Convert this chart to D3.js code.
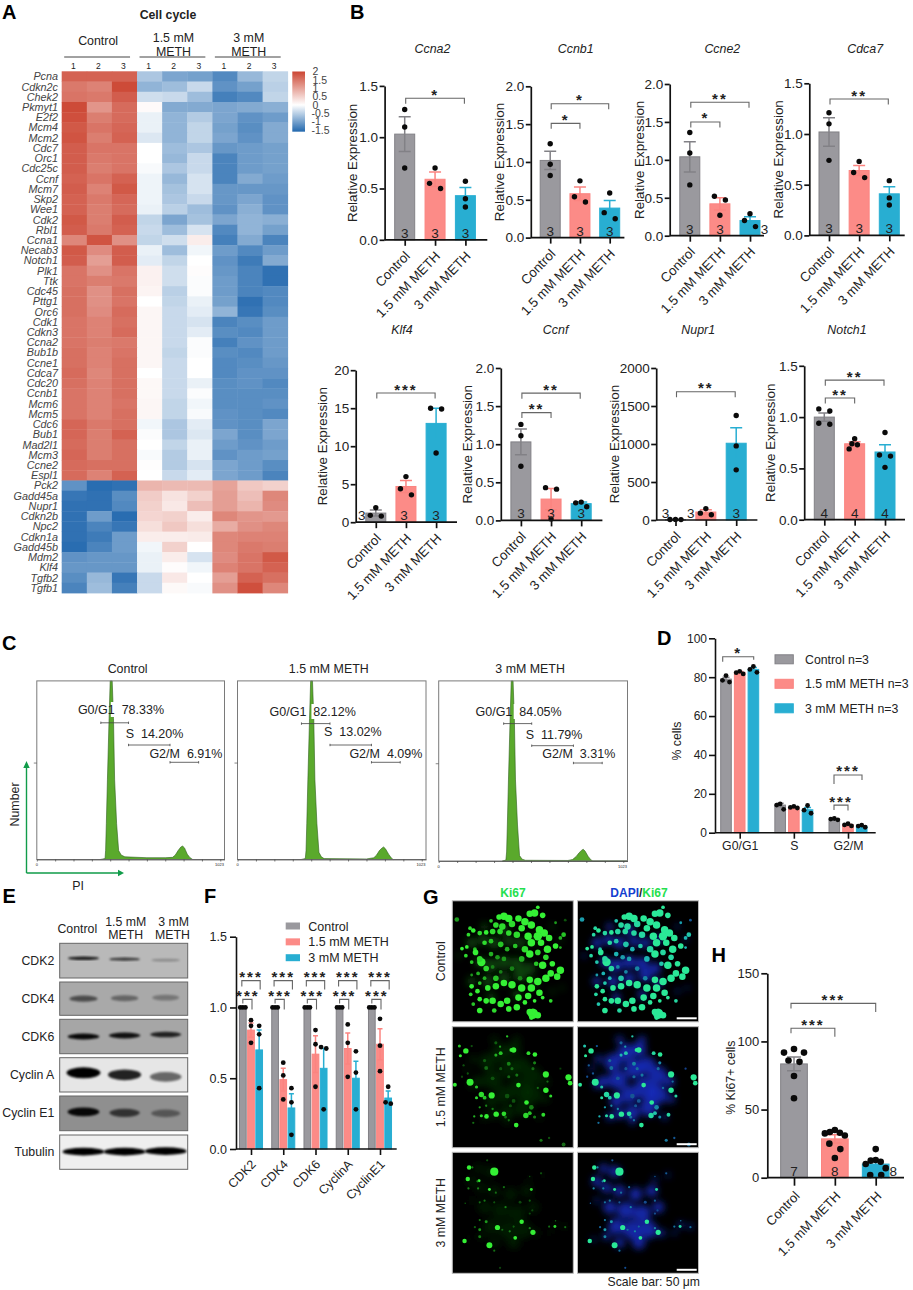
<!DOCTYPE html>
<html>
<head>
<meta charset="utf-8">
<script src="https://cdn.jsdelivr.net/npm/d3@7"></script>
<style>
    body { margin: 0; background: white; }
    svg { display: block; font-family: "Liberation Sans", Arial, sans-serif; }
    text { fill: #222; }
</style>
</head>
<body>
<svg id="figure" width="913" height="1290"></svg>
<script>
// ---------- data ----------
const groups = ["Control", "1.5 mM METH", "3 mM METH"];

// A: heatmap
const heatGenes = ["Pcna","Cdkn2c","Chek2","Pkmyt1","E2f2","Mcm4","Mcm2","Cdc7","Orc1","Cdc25c","Ccnf","Mcm7","Skp2","Wee1","Cdk2","Rbl1","Ccna1","Necab3","Notch1","Plk1","Ttk","Cdc45","Pttg1","Orc6","Cdk1","Cdkn3","Ccna2","Bub1b","Ccne1","Cdca7","Cdc20","Ccnb1","Mcm6","Mcm5","Cdc6","Bub1","Mad2l1","Mcm3","Ccne2","Espl1","Pck2","Gadd45a","Nupr1","Cdkn2b","Npc2","Cdkn1a","Gadd45b","Mdm2","Klf4","Tgfb2","Tgfb1"];
const heatColumns = ["1","2","3","1","2","3","1","2","3"];
const heatValues = [
    [1.7,1.7,1.7,-.6,-.95,-1.0,-1.25,-.75,-.45],
    [1.45,1.35,1.95,-.8,-.7,-.4,-1.15,-1.0,-.5],
    [1.5,1.45,1.75,-.35,-.4,-.7,-1.35,-1.25,-.45],
    [1.95,1.15,1.6,.05,-.9,-.9,-.95,-.9,-.85],
    [1.9,1.4,1.6,-.15,-.8,-.55,-.95,-1.15,-1.05],
    [1.8,1.5,1.65,-.15,-.8,-.45,-1.0,-1.2,-.9],
    [1.85,1.4,1.7,-.25,-.8,-.45,-.95,-1.15,-.9],
    [1.75,1.5,1.5,0,-.7,-.6,-1.1,-1.05,-1.0],
    [1.75,1.45,1.5,0,-.75,-.4,-1.3,-1.05,-1.0],
    [1.75,1.4,1.5,-.05,-.6,-.4,-1.3,-1.05,-1.0],
    [1.7,1.5,1.7,-.12,-.75,-.3,-1.3,-.9,-1.05],
    [1.75,1.35,1.8,-.12,-.65,-.3,-1.1,-1.1,-1.1],
    [1.7,1.45,1.65,-.12,-.6,-.4,-1.1,-.95,-1.15],
    [1.7,1.4,1.6,-.15,-.5,-.7,-1.15,-.85,-1.15],
    [1.8,1.4,1.75,-.45,-.95,-.65,-.95,-.8,-.85],
    [1.75,1.45,1.7,-.4,-.7,-.3,-1.25,-.8,-1.0],
    [1.3,1.85,1.2,-.45,-.35,.2,-1.35,-.9,-1.3],
    [1.8,1.25,1.75,-.15,-.7,-.1,-1.05,-1.25,-1.05],
    [1.75,1.05,1.75,-.2,-.45,0,-1.15,-1.4,-.9],
    [1.5,1.2,1.5,.15,-.35,.03,-1.1,-1.3,-1.5],
    [1.5,1.4,1.45,.15,-.35,-.03,-1.05,-1.3,-1.5],
    [1.55,1.2,1.55,.12,-.5,-.03,-1.05,-1.3,-1.25],
    [1.55,1.2,1.5,0,-.45,-.15,-1.0,-1.5,-1.25],
    [1.55,1.25,1.6,.1,-.4,-.2,-.8,-1.45,-1.2],
    [1.5,1.35,1.55,.1,-.4,-.3,-1.3,-1.2,-1.05],
    [1.5,1.35,1.6,.1,-.4,-.2,-1.2,-1.25,-1.05],
    [1.5,1.4,1.45,.1,-.4,-.03,-1.35,-1.15,-1.05],
    [1.55,1.35,1.5,.1,-.45,-.03,-1.2,-1.25,-1.05],
    [1.55,1.35,1.55,.1,-.4,0,-1.25,-1.2,-1.1],
    [1.6,1.3,1.55,0,-.4,0,-1.25,-1.15,-1.15],
    [1.55,1.35,1.55,.08,-.4,-.15,-1.2,-1.15,-1.25],
    [1.5,1.35,1.55,.08,-.4,-.03,-1.2,-1.2,-1.2],
    [1.5,1.35,1.5,.1,-.45,-.1,-1.2,-1.2,-1.15],
    [1.5,1.35,1.55,.1,-.45,-.05,-1.15,-1.2,-1.25],
    [1.65,1.45,1.55,-.1,-.6,-.2,-1.15,-1.2,-.95],
    [1.65,1.4,1.7,-.03,-.6,-.25,-.95,-1.2,-.95],
    [1.6,1.4,1.55,0,-.45,-.15,-1.05,-1.15,-1.05],
    [1.65,1.4,1.55,-.05,-.55,-.15,-1.15,-1.05,-1.0],
    [1.6,1.55,1.55,.02,-.55,-.3,-.95,-1.05,-1.2],
    [1.6,1.35,1.7,0,-.4,-.2,-.95,-1.05,-1.3],
    [-1.15,-1.55,-1.5,.8,.75,.75,1.0,.6,.5],
    [-1.45,-1.5,-1.2,.55,.3,.5,1.05,.7,1.3],
    [-1.5,-1.5,-1.25,.5,.25,.7,1.05,.8,1.25],
    [-1.5,-1.05,-1.55,.45,.5,.2,1.3,1.15,1.1],
    [-1.5,-1.3,-1.45,.35,.6,.35,.9,1.2,1.3],
    [-1.5,-1.4,-1.05,.2,.2,.22,1.3,1.35,1.35],
    [-1.55,-1.3,-1.05,-.1,.5,0,1.3,1.45,1.4],
    [-1.15,-1.1,-1.1,-.15,.2,-.3,1.25,1.5,1.8],
    [-1.1,-1.1,-1.1,-.15,.03,-.1,1.35,1.5,1.7],
    [-1.2,-.75,-1.45,-.4,.25,0,1.05,1.7,1.55],
    [-1.3,-.7,-1.35,-.4,.07,-.05,1.2,1.9,1.3]
];
const heatLegendTicks = [2, 1.5, 1, 0.5, 0, -0.5, -1, -1.5];

// B: qPCR bars
const geneNames = ["Ccna2","Ccnb1","Ccne2","Cdca7","Klf4","Ccnf","Nupr1","Notch1"];
const geneTicks = [
    [0,.5,1,1.5],[0,.5,1,1.5,2],[0,.5,1,1.5,2],[0,.5,1,1.5],
    [0,5,10,15,20],[0,.5,1,1.5,2],[0,500,1000,1500,2000],[0,.5,1,1.5]
];
const geneMeans = [
    [1.03,.59,.43],[1.02,.58,.39],[1.04,.42,.2],[1.02,.64,.41],
    [1.2,4.7,13],[1.03,.28,.22],[5,105,1010],[1.0,.74,.66]
];
const geneErrors = [
    [.17,.07,.08],[.12,.09,.1],[.2,.08,.05],[.14,.05,.07],
    [.4,.8,2],[.17,.14,.02],[3,30,205],[.04,.02,.07]
];
const genePoints = [
    [[1.27,1.1,.7],[.7,.55,.5],[.57,.4,.32]],
    [[1.24,.97,.82],[.75,.54,.47],[.59,.33,.25]],
    [[1.36,1.09,.67],[.52,.47,.27],[.29,.2,.12]],
    [[1.21,1.1,.74],[.73,.62,.57],[.54,.37,.3]],
    [[1.9,.9,.8],[6,4.4,3.6],[15,14.9,9.1]],
    [[1.26,1.11,.71],[.43,.41,.02],[.24,.23,.18]],
    [[8,6,5],[150,90,70],[1375,975,660]],
    [[1.08,1.06,.94,.93],[.79,.74,.73,.69],[.85,.63,.62,.51]]
];
const geneCounts = [[3,3,3],[3,3,3],[3,3,3],[3,3,3],[3,3,3],[3,3,3],[3,3,3],[4,4,4]];
// from group, to group, height on the value axis, stars
const geneBrackets = [
    [[0,2,1.38,"*"]],
    [[0,2,1.77,"*"],[0,1,1.51,"*"]],
    [[0,2,1.76,"**"],[0,1,1.5,"*"]],
    [[0,2,1.345,"**"]],
    [[0,2,17,"***"]],
    [[0,2,1.67,"**"],[0,1,1.415,"**"]],
    [[0,2,1687,"**"]],
    [[0,2,1.36,"**"],[0,1,1.186,"**"]]
];

// C: cell cycle histograms, [channel, % of frame height]
const cycleTitles = ["Control", "1.5 mM METH", "3 mM METH"];
const cycleHist = [
    [[345,0],[372,.5],[375,5],[379,20],[385,45],[394,79],[400,100],[411,100],[418,79],[424,45],[435,20],[446,5],[460,2.5],[480,1.5],[600,1],[700,1],[740,1.2],[755,2.5],[770,5],[785,7],[795,7.5],[805,6.5],[820,3],[835,1],[850,0],[1023,0]],
    [[345,0],[368,.5],[372,5],[376,20],[382,45],[391,79],[397,100],[407,100],[414,79],[420,45],[431,20],[442,4],[455,1.5],[470,.5],[700,.3],[740,1],[755,2.5],[770,5],[785,6.5],[793,7],[803,6],[820,3],[835,.8],[845,0],[1023,0]],
    [[345,0],[364,.5],[368,5],[372,20],[378,45],[387,79],[393,100],[403,100],[410,79],[416,45],[427,20],[438,3],[452,1],[470,.4],[700,.3],[725,.8],[745,2.5],[760,4.5],[775,6],[783,6.5],[793,5.5],[810,2.5],[825,.6],[835,0],[1023,0]]
];
const cycleLabels = [
    ["G0/G1  78.33%", "S  14.20%", "G2/M  6.91%"],
    ["G0/G1  82.12%", "S  13.02%", "G2/M  4.09%"],
    ["G0/G1  84.05%", "S  11.79%", "G2/M  3.31%"]
];
const cycleGates = [
    [[349,500],[500,726],[726,882]],
    [[347,502],[502,727],[727,883]],
    [[352,504],[504,730],[730,886]]
];

// D: cell cycle fractions
const phases = ["G0/G1", "S", "G2/M"];
const phaseLegend = ["Control n=3", "1.5 mM METH n=3", "3 mM METH n=3"];
const phaseTicks = [0,20,40,60,80,100];
const phaseMeans = [[79,82.5,84],[14.2,13,11.8],[6.9,4.1,3.3]];
const phaseErrors = [[1,.4,1],[.9,.3,1.2],[.2,.3,.3]];
const phasePoints = [
    [[80.8,78.4,77.5],[83,82.3,81.7],[85.5,84,82.5]],
    [[14.8,14.2,12],[13.5,13,12.7],[14,11.6,10]],
    [[7.3,7,6.6],[4.6,4,3.5],[3.9,3.4,2.8]]
];

// E: western blots
const blotNames = ["CDK2","CDK4","CDK6","Cyclin A","Cyclin E1","Tubulin"];
const blotIntensity = [
    [.85,.7,.25],[.55,.4,.3],[.95,.9,.8],[1,.85,.55],[.95,.65,.4],[1,1,1]
];
const blotBackground = ["#b9b9b9","#a9a9a9","#a6a6a6","#e6e6e6","#8f8f8f","#efefef"];

// F: protein quantification
const proteins = ["CDK2","CDK4","CDK6","CyclinA","CyclinE1"];
const proteinTicks = [0,.5,1,1.5];
const proteinMeans = [[1,.84,.7],[1,.49,.29],[1,.67,.57],[1,.71,.5],[1,.74,.36]];
const proteinErrors = [[0,.05,.14],[0,.08,.1],[0,.13,.14],[0,.11,.12],[0,.11,.05]];
const proteinPoints = [
    [[1,1,1],[.91,.87,.75],[.87,.81,.43]],
    [[1,1,1],[.61,.52,.35],[.43,.33,.1]],
    [[1,1,1],[.84,.74,.44],[.72,.71,.28]],
    [[1,1,1],[.88,.75,.51],[.69,.54,.28]],
    [[1,1,1],[.92,.73,.55],[.44,.33,.32]]
];

// G: confocal spots, [x, y, radius, brightness] on a 375 wide frame
const ki67Control = [[14,58,5,.6],[265,20,4,1],[255,38,8,1],[280,45,6,1],[240,40,7,1],[160,48,8,1],[175,55,8,1],[145,50,6,1],[205,55,7,1],[225,65,8,1],[245,75,8,1],[135,75,6,.9],[155,80,7,.9],[120,62,4,.8],[185,72,7,.9],[215,85,7,1],[270,90,8,1],[285,100,8,1],[265,110,9,1],[300,115,7,1],[320,68,3,.6],[345,105,5,.8],[335,115,4,.7],[55,85,4,.9],[65,92,5,1],[50,105,4,.9],[85,100,5,.9],[105,98,5,1],[125,95,6,.9],[148,95,6,.9],[175,100,6,.9],[200,105,7,.9],[235,110,8,1],[245,130,8,1],[275,130,7,1],[295,150,8,1],[320,140,6,1],[335,145,3,.7],[30,148,4,1],[45,143,4,1],[42,170,4,.9],[70,150,4,.8],[72,160,6,1],[100,130,5,.9],[120,125,5,.8],[150,135,6,.8],[170,150,5,.7],[195,140,5,.8],[225,150,7,.9],[240,165,8,1],[265,160,6,.9],[90,190,9,1],[85,180,6,.9],[60,190,4,.8],[120,165,5,.7],[140,175,5,.6],[160,180,5,.6],[215,180,6,.7],[290,175,6,.9],[280,200,8,1],[310,195,6,1],[335,215,8,1],[325,235,7,1],[305,225,7,1],[260,195,5,.8],[290,240,8,1],[265,250,8,1],[240,245,7,1],[210,240,5,.5],[185,210,5,.5],[150,220,4,.5],[125,205,4,.5],[105,210,6,.9],[80,225,4,.7],[60,230,3,.6],[100,240,4,.7],[135,240,6,.8],[160,255,7,1],[185,260,8,1],[135,265,7,1],[110,270,6,1],[85,255,4,.8],[60,265,5,1],[78,280,5,1],[57,290,4,.9],[215,270,8,1],[245,270,8,1],[270,285,7,1],[235,295,7,1],[205,300,7,1],[170,310,7,1],[150,320,7,1],[125,310,7,1],[105,310,6,1],[85,305,5,1],[65,320,4,.8],[85,340,6,1],[130,340,5,.9],[175,335,6,1],[200,330,7,1],[225,315,5,1],[255,310,4,1],[280,300,4,1],[305,310,4,.9],[250,350,11,1],[265,355,7,1],[240,345,7,1],[245,362,5,1],[350,60,3,.3]];
const ki67Low = [[42,75,7,1],[25,90,4,1],[22,60,4,.8],[170,30,3,.8],[190,72,7,1],[183,72,5,1],[236,82,5,.9],[256,86,6,1],[290,148,8,1],[360,157,8,1],[365,175,6,1],[8,180,5,1],[55,172,9,1],[75,187,4,.8],[205,181,6,1],[290,197,7,1],[305,215,4,.9],[90,210,7,.9],[122,213,8,1],[75,220,4,.9],[100,220,5,.8],[230,235,6,1],[136,271,7,1],[106,278,6,1],[90,276,4,.9],[68,278,3,.7],[160,270,6,.9],[228,275,7,.9],[240,268,5,.8],[282,273,5,.9],[198,305,6,1],[150,82,5,.8],[135,88,4,.7],[148,62,3,.6],[135,50,4,.35],[100,105,4,.35],[105,128,5,.4],[125,160,5,.3],[175,115,5,.5],[185,130,4,.4],[200,150,4,.45],[175,155,4,.4],[150,130,4,.3],[255,112,4,.5],[250,130,4,.4],[295,170,3,.4],[265,190,3,.4],[170,215,6,.3],[190,230,5,.3],[180,245,4,.3],[165,280,4,.4],[175,290,3,.4],[245,250,6,.5],[255,280,4,.5],[105,245,3,.5],[85,250,3,.6],[125,255,3,.5],[65,298,3,.4],[275,352,4,.45],[300,345,3,.3],[345,365,5,.4],[335,130,3,.2],[60,60,3,.3],[35,120,3,.3],[48,145,3,.3],[30,155,3,.25]];
const ki67High = [[130,60,11,1],[52,47,6,1],[48,83,6,1],[83,88,4,1],[115,115,4,1],[245,115,4,.9],[215,215,6,1],[140,233,7,1],[250,248,7,1],[195,265,5,1],[38,275,6,1],[115,288,8,1],[318,230,4,.9],[62,47,3,.5],[78,90,3,.5],[108,25,3,.3],[50,112,3,.5],[80,112,3,.5],[100,150,3,.45],[85,155,3,.4],[40,158,2,.35],[135,125,3,.4],[160,108,3,.4],[165,170,3,.5],[240,150,3,.35],[210,155,4,.25],[130,155,3,.3],[105,215,4,.6],[85,210,3,.45],[85,240,4,.6],[85,262,4,.5],[178,245,3,.5],[155,240,3,.4],[190,230,3,.35],[240,235,3,.5],[300,230,3,.4],[350,232,3,.4],[320,212,2,.4],[275,65,3,.3],[240,75,2,.3],[148,358,3,.25],[130,305,3,.4],[240,190,3,.25],[70,232,3,.35],[248,180,3,.25]];
const dapiControl = [[60,130,14],[95,120,14],[130,130,16],[175,125,14],[210,130,14],[250,120,12],[85,190,14],[120,200,18],[160,190,18],[200,195,18],[240,210,16],[60,250,12],[110,250,16],[160,240,16],[210,230,18],[250,255,12],[120,300,12],[200,290,12],[160,90,14],[100,80,10],[310,80,6],[335,120,6],[20,170,6],[340,270,5],[310,280,6]];
const dapiLow = [[110,110,24],[150,80,24],[190,70,20],[80,170,16],[125,165,26],[175,130,26],[215,120,24],[250,150,24],[210,190,30],[160,210,24],[120,230,18],[250,210,26],[285,170,14],[220,250,24],[170,265,20],[130,270,14],[65,100,10],[60,180,10],[100,280,10],[290,225,10],[270,280,8],[45,130,7],[200,40,10],[130,40,10],[170,295,8]];
const dapiHigh = [[80,50,12],[115,60,16],[60,90,14],[90,110,14],[130,120,16],[180,130,18],[230,120,16],[250,170,16],[100,170,18],[150,180,24],[200,190,24],[120,230,22],[170,240,26],[220,240,24],[260,250,10],[190,280,18],[130,280,14],[90,260,10],[320,225,8],[350,230,7],[300,250,6],[60,150,7],[240,85,7],[280,70,6],[50,270,6]];
const imagingRows = ["Control", "1.5 mM METH", "3 mM METH"];

// H: Ki67 quantification
const ki67Ticks = [0,50,100,150];
const ki67Means = [83.5,28.5,10];
const ki67Errors = [5,3,2];
const ki67Points = [
    [94.5,91.8,91.8,86,85,74.6,58.3],
    [35,33.5,33,32.5,31,25,21,14.5],
    [21,13,12.5,11.7,10,7,2,2]
];
const ki67Counts = [7,8,8];

// ---------- helpers ----------
const barColors = ["#9a999e", "#fc8b87", "#28aed2"];
const barStrokes = ["#828186", "#fb8480", "#28aed2"];
const svg = d3.select("#figure");

const defs = svg.append("defs");
function addBlur(id, std) {
    defs.append("filter").attr("id", id)
        .attr("x", "-30%").attr("y", "-30%").attr("width", "160%").attr("height", "160%")
        .append("feGaussianBlur").attr("stdDeviation", std);
}
addBlur("blur1", 1);
addBlur("blur08", .7);
addBlur("blur4", 3.5);

function label(parent, x, y, txt, size, opts) {
    let o = opts || {};
    let t = parent.append("text")
        .attr("x", x).attr("y", y)
        .attr("font-size", size)
        .attr("text-anchor", o.anchor || "start")
        .text(txt);
    if (o.bold) t.attr("font-weight", "bold");
    if (o.italic) t.attr("font-style", "italic");
    if (o.color) t.style("fill", o.color);
    if (o.rotate) t.attr("transform", `rotate(${o.rotate},${x},${y})`);
    return t;
}

// spreads dots that would overlap sideways, the way Prism does
function swarm(values, yScale, step, near) {
    let sorted = values.slice().sort((a, b) => b - a);
    let result = [];
    let cluster = [];
    let order = [0, -1, 1, -2, 2, -3, 3];
    function flush() {
        let k = cluster.length;
        cluster.forEach((v, i) => {
            let dx;
            if (k === 2) dx = (i === 0 ? -1 : 1) * Math.min(step, 5.5);
            else dx = order[i] * step / Math.max(1, Math.floor(k / 2));
            result.push({ v: v, dx: dx });
        });
        cluster = [];
    }
    sorted.forEach(v => {
        if (cluster.length && yScale(v) - yScale(cluster[cluster.length - 1]) > near) flush();
        cluster.push(v);
    });
    flush();
    return result;
}

function bracket(parent, x1, x2, y, stars, dropL, dropR, starX) {
    parent.append("path")
        .attr("d", `M${x1},${y + dropL}V${y}H${x2}V${y + dropR}`)
        .attr("fill", "none").attr("stroke", "#666").attr("stroke-width", 1.1);
    parent.append("text")
        .attr("x", starX === undefined ? (x1 + x2) / 2 : starX)
        .attr("y", y + 1.5)
        .attr("text-anchor", "middle")
        .attr("font-size", 15)
        .attr("font-weight", "bold")
        .attr("letter-spacing", 2)
        .text(stars);
}

function styleAxis(sel, width) {
    sel.selectAll("path,line").attr("stroke", "#111").attr("stroke-width", width);
    sel.selectAll("text").style("fill", "#222").attr("font-family", "Liberation Sans, Arial, sans-serif");
}

function drawBars(parent, centres, yScale, means, errors, barW, capW) {
    means.forEach((m, i) => {
        parent.append("rect")
            .attr("x", centres[i] - barW / 2).attr("width", barW)
            .attr("y", yScale(m)).attr("height", yScale(0) - yScale(m))
            .attr("fill", barColors[i]).attr("stroke", barStrokes[i]).attr("stroke-width", 1);
        if (errors[i] > 0) {
            let top = yScale(m + errors[i]);
            let low = yScale(Math.max(0, m - errors[i]));
            parent.append("path")
                .attr("d", `M${centres[i] - capW / 2},${top}H${centres[i] + capW / 2}M${centres[i]},${top}V${low}M${centres[i] - capW / 2},${low}H${centres[i] + capW / 2}`)
                .attr("fill", "none").attr("stroke", barStrokes[i]).attr("stroke-width", 1.5);
        }
    });
}

function drawDots(parent, centres, yScale, points, r, step, near) {
    points.forEach((vals, i) => {
        parent.selectAll(null)
            .data(swarm(vals, yScale, step, near))
            .enter().append("circle")
            .attr("cx", d => centres[i] + d.dx)
            .attr("cy", d => yScale(d.v))
            .attr("r", r)
            .attr("fill", "#0a0a0a");
    });
}

function rotateLabels(axisG, dx, dy) {
    axisG.selectAll(".tick text")
        .attr("text-anchor", "end")
        .attr("x", 0).attr("y", 0).attr("dy", 0)
        .attr("transform", `translate(${dx},${dy}) rotate(-46)`);
}

// ---------- A ----------
function drawHeatmap() {
    let g = svg.append("g");
    label(g, 168, 18.5, "Cell cycle", 12.3, { bold: true, anchor: "middle" });

    let color = d3.scaleLinear().domain([-1.6, 0, 2]).range(["#2268ae", "#ffffff", "#cc4633"]);
    let x = d3.scaleBand().domain(d3.range(heatColumns.length)).range([61.7, 287.7]);
    let y = d3.scaleBand().domain(heatGenes).range([71.3, 593]);

    heatValues.forEach((row, r) => {
        g.selectAll(null).data(row).enter().append("rect")
            .attr("x", (d, c) => x(c))
            .attr("y", y(heatGenes[r]))
            .attr("width", x.bandwidth() + .4)
            .attr("height", y.bandwidth() + .4)
            .attr("fill", d => color(d));
    });

    g.selectAll(null).data(heatGenes).enter().append("text")
        .attr("x", 58)
        .attr("y", d => y(d) + y.bandwidth() / 2)
        .attr("dy", ".36em")
        .attr("text-anchor", "end")
        .attr("font-size", 10.8)
        .attr("font-style", "italic")
        .style("fill", "#444")
        .text(d => d);

    g.selectAll(null).data(heatColumns).enter().append("text")
        .attr("x", (d, i) => x(i) + x.bandwidth() / 2 - 1)
        .attr("y", 69)
        .attr("text-anchor", "middle")
        .attr("font-size", 8.5)
        .text(d => d);

    // group heads
    let heads = [[0, ["Control"], 45], [3, ["1.5 mM", "METH"], 41.7], [6, ["3 mM", "METH"], 41.7]];
    heads.forEach(h => {
        let x1 = x(h[0]) + 2.5;
        let x2 = x(h[0] + 2) + x.bandwidth() - 7;
        g.append("line").attr("x1", x1).attr("x2", x2).attr("y1", 57).attr("y2", 57)
            .attr("stroke", "#444").attr("stroke-width", 1);
        h[1].forEach((t, i) => {
            label(g, (x1 + x2) / 2 + 1, h[2] + i * 14, t, 12.4, { anchor: "middle" });
        });
    });

    // colour key
    let key = d3.scaleLinear().domain([2, -1.5]).range([71.5, 130]);
    let grad = defs.append("linearGradient").attr("id", "heatKey")
        .attr("x1", 0).attr("x2", 0).attr("y1", 0).attr("y2", 1);
    [2, 1, 0, -.8, -1.6].forEach((v, i) => {
        grad.append("stop").attr("offset", `${(2 - v) / 3.6 * 100}%`).attr("stop-color", color(v));
    });
    g.append("rect").attr("x", 292.3).attr("y", key(2)).attr("width", 12.7)
        .attr("height", key(-1.6) - key(2)).attr("fill", "url(#heatKey)");
    g.selectAll(null).data(heatLegendTicks).enter().append("text")
        .attr("x", d => d < 0 ? 311.5 : 312.5)
        .attr("y", d => key(d))
        .attr("dy", ".36em")
        .attr("font-size", 10.5)
        .style("fill", "#444")
        .text(d => d);
}

// ---------- B ----------
const geneLayout = [
    { axis: 384.6, end: 487.3, top: 85.9, base: 239.8, c0: 404.7, c2: 465.4, title: 432.5, titleY: 53.4, yLabel: 357.5, nDx: [0,0,0] },
    { axis: 530.8, end: 624.4, top: 86.3, base: 237.6, c0: 550.2, c2: 609.7, title: 575.7, titleY: 53.4, yLabel: 503.7, nDx: [0,0,0] },
    { axis: 669.7, end: 764, top: 84, base: 235.7, c0: 689.8, c2: 750, title: 722.3, titleY: 53.4, yLabel: 644, nDx: [0,0,14.6] },
    { axis: 809.3, end: 904.7, top: 83.3, base: 235.4, c0: 829, c2: 889.3, title: 865.2, titleY: 53.4, yLabel: 783, nDx: [0,0,0] },
    { axis: 355.7, end: 457, top: 370.2, base: 522.2, c0: 375.8, c2: 436.1, title: 402, titleY: 333.6, yLabel: 327, nDx: [-14,-2,0] },
    { axis: 500.8, end: 602.4, top: 368, base: 520.4, c0: 520.9, c2: 581.2, title: 555.6, titleY: 333.6, yLabel: 472.3, nDx: [0,0,0] },
    { axis: 656.2, end: 757.4, top: 368, base: 520, c0: 675.5, c2: 736.2, title: 698.2, titleY: 333.6, yLabel: 618.5, nDx: [-10,-15,0] },
    { axis: 804.2, end: 905, top: 365.8, base: 519.7, c0: 824.3, c2: 885, title: 847, titleY: 333.6, yLabel: 775, nDx: [0,0,0] }
];

function drawGenePanels() {
    geneNames.forEach((name, i) => {
        let l = geneLayout[i];
        let g = svg.append("g");
        let ticks = geneTicks[i];
        let y = d3.scaleLinear().domain([0, d3.max(ticks)]).range([l.base, l.top]);
        let x = d3.scalePoint().domain(groups).range([l.c0, l.c2]);
        let centres = groups.map(d => x(d));

        label(g, l.title, l.titleY, name, 12.4, { italic: true, anchor: "middle" });
        label(g, l.yLabel, (l.top + l.base) / 2, "Relative Expression", 13.4, { anchor: "middle", rotate: -90 });

        drawBars(g, centres, y, geneMeans[i], geneErrors[i], 20, 12);
        drawDots(g, centres, y, genePoints[i], 2.7, 5.5, 6.9);

        geneBrackets[i].forEach(b => {
            bracket(g, centres[b[0]] + 1, centres[b[1]] - (b[1] === 1 ? 0 : 1), y(b[2]), b[3], 5.5, 5.5);
        });

        geneCounts[i].forEach((n, k) => {
            label(g, centres[k] + l.nDx[k], l.base - 2, n, 13.5, { anchor: "middle", color: "#222" });
        });

        let yAxis = g.append("g").attr("transform", `translate(${l.axis},0)`)
            .call(d3.axisLeft(y).tickValues(ticks).tickSize(5).tickPadding(1.5)
                .tickFormat(d => (d3.max(ticks) > 10 ? d : d.toFixed(1))).tickSizeOuter(0));
        yAxis.selectAll("text").attr("font-size", 13.5);
        styleAxis(yAxis, 1.7);

        g.append("line").attr("x1", l.axis).attr("x2", l.end).attr("y1", l.base).attr("y2", l.base)
            .attr("stroke", "#111").attr("stroke-width", 1.7);
        let xAxis = g.append("g").attr("transform", `translate(0,${l.base})`)
            .call(d3.axisBottom(x).tickSize(6).tickPadding(3));
        xAxis.select(".domain").remove();
        xAxis.selectAll("text").attr("font-size", 13.3);
        rotateLabels(xAxis, 5.5, 17);
        styleAxis(xAxis, 1.7);
    });
}

// ---------- C ----------
const cycleBoxes = [
    { left: 36.8, right: 224.5, top: 680.9, bottom: 859.5,
      gateY: [722.8, 745, 762.3],
      textX: [77.9, 125.7, 149.4], textY: [713.5, 738, 758] },
    { left: 237.5, right: 426, top: 680.9, bottom: 859.5,
      gateY: [723.6, 745, 762.3],
      textX: [269.6, 324, 349.4], textY: [715.5, 736, 758] },
    { left: 438.7, right: 627.5, top: 680.9, bottom: 861,
      gateY: [723.6, 745.7, 763],
      textX: [475.5, 525.7, 542.3], textY: [715.5, 738.5, 758] }
];

function drawCyclePanels() {
    cycleBoxes.forEach((b, i) => {
        let g = svg.append("g");
        let x = d3.scaleLinear().domain([0, 1023]).range([b.left, b.right]);
        let y = d3.scaleLinear().domain([0, 100]).range([b.bottom, b.top]);
        let area = d3.area().x(d => x(d[0])).y0(y(0)).y1(d => y(d[1]));

        label(g, (b.left + b.right) / 2 - 3, 672.5, cycleTitles[i], 12.4, { anchor: "middle" });

        g.append("path").attr("d", area(cycleHist[i]))
            .attr("fill", "#5aa92c").attr("stroke", "#2f5f1c").attr("stroke-width", .6);

        g.append("rect")
            .attr("x", b.left).attr("y", b.top).attr("width", b.right - b.left).attr("height", b.bottom - b.top)
            .attr("fill", "none").attr("stroke", "#7a7a7a").attr("stroke-width", 1);

        let xAxis = g.append("g").attr("transform", `translate(0,${b.bottom})`)
            .call(d3.axisBottom(x).tickValues(d3.range(0, 1001, 100)).tickSize(2).tickFormat("").tickSizeOuter(0));
        xAxis.selectAll("path,line").attr("stroke", "#444").attr("stroke-width", .7);
        g.append("line").attr("x1", b.left - 3).attr("x2", b.left).attr("y1", y(54)).attr("y2", y(54))
            .attr("stroke", "#555").attr("stroke-width", .7);
        label(g, b.left, b.bottom + 6.5, "0", 4, { anchor: "middle" });
        label(g, b.right - 5, b.bottom + 6.5, "1023", 4, { anchor: "middle" });

        cycleLabels[i].forEach((t, k) => {
            // the G0/G1 text cuts a white gap through the peak
            if (k === 0) {
                g.append("rect")
                    .attr("x", x(cycleGates[i][0][0]) + 10).attr("y", b.textY[0] - 11.5)
                    .attr("width", 28).attr("height", 15)
                    .attr("fill", "white");
            }
            label(g, b.textX[k], b.textY[k], t, 12.5).style("white-space", "pre");
            let gate = cycleGates[i][k];
            g.append("path")
                .attr("d", `M${x(gate[0])},${b.gateY[k] - 1.2}v2.4M${x(gate[0])},${b.gateY[k]}H${x(gate[1])}M${x(gate[1])},${b.gateY[k] - 1.2}v2.4`)
                .attr("stroke", "#444").attr("stroke-width", .8).attr("fill", "none");
        });
    });

    // axis arrows
    let g = svg.append("g");
    let green = "#119c4a";
    g.append("path").attr("d", "M26.5,873V767M26.5,873H119")
        .attr("fill", "none").attr("stroke", green).attr("stroke-width", 1.4);
    g.append("path").attr("d", "M23.3,768L26.5,761L29.7,768Z M118,869.8L124,873L118,876.2Z").attr("fill", green);
    label(g, 18.5, 804.5, "Number", 12.4, { anchor: "middle", rotate: -90 });
    label(g, 78, 890, "PI", 12.4, { anchor: "middle" });
}

// ---------- D ----------
function drawPhases() {
    let g = svg.append("g");
    let y = d3.scaleLinear().domain([0, 100]).range([832.7, 638.3]);
    let x = d3.scalePoint().domain(phases).range([739.7, 848]);
    let sub = d3.scalePoint().domain(groups).range([-13.7, 13.7]);

    phases.forEach((p, i) => {
        let centres = groups.map(s => x(p) + sub(s));
        drawBars(g, centres, y, phaseMeans[i], phaseErrors[i], 10.6, 7);
        drawDots(g, centres, y, phasePoints[i], 2.4, 3.5, 6.5);
    });

    let c0 = x("G0/G1"), c2 = x("G2/M");
    bracket(g, c0 - 17, c0 + 14, y(90.5), "*", 5, 3);
    bracket(g, c2 - 14, c2, y(14.2), "***", 5, 5.5);
    bracket(g, c2 - 14, c2 + 14, y(29.7), "***", 9, 5);

    let yAxis = g.append("g").attr("transform", "translate(715,0)")
        .call(d3.axisLeft(y).tickValues(phaseTicks).tickSize(6).tickPadding(2).tickSizeOuter(0));
    yAxis.selectAll("text").attr("font-size", 12);
    styleAxis(yAxis, 1.6);

    g.append("line").attr("x1", 715).attr("x2", 875.7).attr("y1", 832.7).attr("y2", 832.7)
        .attr("stroke", "#111").attr("stroke-width", 1.6);
    let xAxis = g.append("g").attr("transform", "translate(0,832.7)")
        .call(d3.axisBottom(x).tickSize(6).tickPadding(3));
    xAxis.select(".domain").remove();
    xAxis.selectAll("text").attr("font-size", 12.3);
    styleAxis(xAxis, 1.6);

    label(g, 680.5, 741, "% cells", 12.3, { anchor: "middle", rotate: -90 });

    let legY = d3.scalePoint().domain(phaseLegend).range([659.3, 708.3]);
    phaseLegend.forEach((t, i) => {
        g.append("rect").attr("x", 775).attr("y", legY(t) - 4.5).attr("width", 18.3).attr("height", 9)
            .attr("fill", barColors[i]).attr("stroke", barStrokes[i]);
        label(g, 805, legY(t) + 4.5, t, 12.3);
    });
}

// ---------- E ----------
// band sizes per blot, in image pixels: half width, half height, vertical shift
const blotBands = [
    [16, 1.8, [-1.5, -.5, .5]],
    [15, 3.5, [1, .5, 0]],
    [16, 3, [1, 0, -1]],
    [17, 5.5, [-1, 1, 3]],
    [16, 4.5, [-.5, .5, 1]],
    [21, 3.8, [.5, .5, 0]]
];
const blotRows = [[943.3,978],[982,1015.3],[1019.3,1053.7],[1057.7,1092],[1096,1130.7],[1135,1169.3]];

function drawBlots() {
    let g = svg.append("g");
    let lane = d3.scalePoint().domain(groups).range([83.5, 165.7]);

    blotNames.forEach((name, i) => {
        let r = blotRows[i];
        let id = "blot" + i;
        defs.append("clipPath").attr("id", id).append("rect")
            .attr("x", 59.7).attr("y", r[0]).attr("width", 128).attr("height", r[1] - r[0]);
        g.append("rect").attr("x", 59.7).attr("y", r[0]).attr("width", 128).attr("height", r[1] - r[0])
            .attr("fill", blotBackground[i]);
        let bands = g.append("g").attr("clip-path", `url(#${id})`);
        let size = blotBands[i];
        groups.forEach((gr, k) => {
            let v = blotIntensity[i][k];
            bands.append("ellipse")
                .attr("cx", lane(gr))
                .attr("cy", (r[0] + r[1]) / 2 + size[2][k] - 1)
                .attr("rx", size[0] * (.85 + .15 * v))
                .attr("ry", size[1] * (.75 + .25 * v))
                .attr("fill", "#000")
                .attr("opacity", v)
                .attr("filter", "url(#blur1)");
        });
        g.append("rect").attr("x", 59.7).attr("y", r[0]).attr("width", 128).attr("height", r[1] - r[0])
            .attr("fill", "none").attr("stroke", "#666").attr("stroke-width", 1);
        label(g, 54.3, (r[0] + r[1]) / 2 + 4, name, 12.3, { anchor: "end" });
    });

    label(g, 77.3, 933, "Control", 12.3, { anchor: "middle" });
    label(g, 125.7, 926, "1.5 mM", 12.3, { anchor: "middle" });
    label(g, 125.7, 939, "METH", 12.3, { anchor: "middle" });
    label(g, 173.7, 926, "3 mM", 12.3, { anchor: "middle" });
    label(g, 172.5, 939, "METH", 12.3, { anchor: "middle" });
}

// ---------- F ----------
function drawProteins() {
    let g = svg.append("g");
    let y = d3.scaleLinear().domain([0, 1.5]).range([1149, 936.7]);
    let x = d3.scalePoint().domain(proteins).range([251, 380]);
    let sub = d3.scalePoint().domain(groups).range([-8.17, 8.17]);

    proteins.forEach((p, i) => {
        let centres = groups.map(s => x(p) + sub(s));
        drawBars(g, centres, y, proteinMeans[i], proteinErrors[i], 6.7, 5);
        drawDots(g, centres, y, proteinPoints[i], 2.4, 2.6, 3.5);
        bracket(g, centres[0], centres[1] + 1, y(1.057), "***", 4, 10, centres[0] + 5);
        bracket(g, centres[0] - 1, centres[2] + 1, y(1.19), "***", 6, 9);
    });

    let yAxis = g.append("g").attr("transform", "translate(236,0)")
        .call(d3.axisLeft(y).tickValues(proteinTicks).tickSize(6).tickPadding(3)
            .tickFormat(d => d.toFixed(1)).tickSizeOuter(0));
    yAxis.selectAll("text").attr("font-size", 12.5);
    styleAxis(yAxis, 1.6);

    g.append("line").attr("x1", 236).attr("x2", 396.7).attr("y1", 1149).attr("y2", 1149)
        .attr("stroke", "#111").attr("stroke-width", 1.6);
    let xAxis = g.append("g").attr("transform", "translate(0,1149)")
        .call(d3.axisBottom(x).tickSize(6).tickPadding(3));
    xAxis.select(".domain").remove();
    xAxis.selectAll("text").attr("font-size", 12.5);
    rotateLabels(xAxis, 5, 16);
    styleAxis(xAxis, 1.6);

    let legY = d3.scalePoint().domain(groups).range([926, 957.7]);
    groups.forEach((t, i) => {
        g.append("rect").attr("x", 285.7).attr("y", legY(t) - 3.5).attr("width", 14.3).attr("height", 7)
            .attr("fill", barColors[i]);
        label(g, 308.3, legY(t) + 4.5, t, 12.5);
    });
}

// ---------- G ----------
function drawImage(g, left, top, spots, cloud, merged, grow, hazeColor) {
    let size = 121;
    let p = d3.scaleLinear().domain([0, 375]).range([0, size]);
    let id = "img" + Math.round(left) + "_" + Math.round(top);
    defs.append("clipPath").attr("id", id).append("rect")
        .attr("x", left).attr("y", top).attr("width", size).attr("height", size);
    g.append("rect").attr("x", left).attr("y", top).attr("width", size).attr("height", size).attr("fill", "#000");
    let inner = g.append("g").attr("clip-path", `url(#${id})`);

    // diffuse signal under the spots: blue nuclei in the merge, dim green otherwise
    inner.append("g").attr("filter", "url(#blur4)")
        .selectAll("circle").data(cloud).enter().append("circle")
        .attr("cx", d => left + p(d[0])).attr("cy", d => top + p(d[1])).attr("r", d => p(d[2]) * 1.15)
        .attr("fill", merged ? "#1830cc" : hazeColor)
        .attr("opacity", merged ? .8 : .55);

    let shade = merged
        ? d3.scaleLinear().domain([.2, .7, 1]).range(["#12408c", "#1cb4b4", "#2ae898"])
        : d3.scaleLinear().domain([.2, .6, 1]).range(["#0a3a0a", "#1c9a1c", "#34f034"]);
    inner.append("g").attr("filter", "url(#blur08)")
        .selectAll("circle").data(spots).enter().append("circle")
        .attr("cx", d => left + p(d[0])).attr("cy", d => top + p(d[1])).attr("r", d => p(d[2]) * grow)
        .attr("fill", d => shade(d[3]));

    g.append("rect").attr("x", left).attr("y", top).attr("width", size).attr("height", size)
        .attr("fill", "none").attr("stroke", "#bbb").attr("stroke-width", 1);
}

function drawImaging() {
    let g = svg.append("g");
    let tops = [900.8, 1026.7, 1152.3];
    let spots = [ki67Control, ki67Low, ki67High];
    let cloud = [dapiControl, dapiLow, dapiHigh];
    let grow = [1.45, 1.2, 1.15];
    let haze = ["#147a14", "#0a3c0a", "#082e08"];

    imagingRows.forEach((name, i) => {
        drawImage(g, 452.3, tops[i], spots[i], cloud[i], false, grow[i], haze[i]);
        drawImage(g, 577.5, tops[i], spots[i], cloud[i], true, grow[i], haze[i]);
        g.append("rect").attr("x", 676.7).attr("y", tops[i] + 116.5).attr("width", 20).attr("height", 2).attr("fill", "#fff");
        label(g, 445, tops[i] + 60.5, name, 12.4, { anchor: "middle", rotate: -90 });
    });

    label(g, 513, 897, "Ki67", 12, { bold: true, anchor: "middle", color: "#24e04e" });
    let t = label(g, 639, 897, "DAPI", 12, { bold: true, anchor: "middle", color: "#1440d0" });
    t.append("tspan").text("/").style("fill", "#222");
    t.append("tspan").text("Ki67").style("fill", "#24e04e");

    label(g, 700, 1285.5, "Scale bar: 50 μm", 12.2, { anchor: "end" });
}

// ---------- H ----------
function drawKi67() {
    let g = svg.append("g");
    let y = d3.scaleLinear().domain([0, 150]).range([1177.7, 973.3]);
    let x = d3.scalePoint().domain(groups).range([794, 875.7]);
    let centres = groups.map(d => x(d));

    drawBars(g, centres, y, ki67Means, ki67Errors, 26.7, 14);
    drawDots(g, centres, y, ki67Points, 3.3, 10, 5.5);

    bracket(g, centres[0] - 3, centres[2], y(127.9), "***", 5, 8.5);
    bracket(g, centres[0] - 3, centres[1], y(109.7), "***", 5, 8.5);

    [0, 0, 17.6].forEach((dx, k) => {
        label(g, centres[k] + dx, 1175.5, ki67Counts[k], 13.5, { anchor: "middle" });
    });

    let yAxis = g.append("g").attr("transform", "translate(767.3,0)")
        .call(d3.axisLeft(y).tickValues(ki67Ticks).tickSize(6).tickPadding(2).tickSizeOuter(0));
    yAxis.selectAll("text").attr("font-size", 13);
    styleAxis(yAxis, 1.7);

    g.append("line").attr("x1", 767.3).attr("x2", 904).attr("y1", 1177.7).attr("y2", 1177.7)
        .attr("stroke", "#111").attr("stroke-width", 1.7);
    let xAxis = g.append("g").attr("transform", "translate(0,1177.7)")
        .call(d3.axisBottom(x).tickSize(8).tickPadding(3));
    xAxis.select(".domain").remove();
    xAxis.selectAll("text").attr("font-size", 13);
    rotateLabels(xAxis, 6, 19);
    styleAxis(xAxis, 1.7);

    label(g, 735, 1077.7, "% Ki67+ cells", 12.3, { anchor: "middle", rotate: -90 });
}

// ---------- panel letters ----------
const panelLetters = [
    ["A", 2, 18.5], ["B", 350, 19], ["C", 2, 650], ["D", 657, 645],
    ["E", 2.5, 903], ["F", 204, 903], ["G", 423, 904], ["H", 711.5, 961.7]
];

drawHeatmap();
drawGenePanels();
drawCyclePanels();
drawPhases();
drawBlots();
drawProteins();
drawImaging();
drawKi67();

svg.selectAll(null).data(panelLetters).enter().append("text")
    .attr("x", d => d[1]).attr("y", d => d[2])
    .attr("font-size", 20).attr("font-weight", "bold")
    .style("fill", "#000")
    .text(d => d[0]);
</script>
</body>
</html>
